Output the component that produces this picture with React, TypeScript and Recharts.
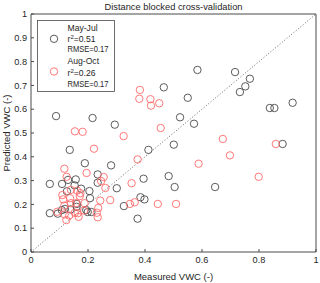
import React from "react";
import {
  ScatterChart,
  Scatter,
  XAxis,
  YAxis,
  ReferenceLine,
} from "recharts";

type Pt = { x: number; y: number };

// May-Jul (measured, predicted)
const mayJulMeasured = [
  0.584, 0.716, 0.768, 0.752, 0.733, 0.466, 0.55, 0.088, 0.216, 0.294, 0.136,
  0.189, 0.066, 0.109, 0.13, 0.157, 0.234, 0.234, 0.281, 0.412, 0.395, 0.483,
  0.501, 0.523, 0.572, 0.838, 0.854, 0.918, 0.883, 0.646, 0.504, 0.301, 0.153,
  0.176, 0.126, 0.205, 0.207, 0.066, 0.094, 0.108, 0.139, 0.161, 0.194, 0.199,
  0.212, 0.326, 0.384, 0.398, 0.374, 0.119, 0.16,
];
const mayJulPredicted = [
  0.765, 0.756, 0.728, 0.696, 0.672, 0.692, 0.648, 0.571, 0.563, 0.535, 0.429,
  0.373, 0.286, 0.286, 0.303, 0.305, 0.326, 0.291, 0.364, 0.429, 0.308, 0.319,
  0.451, 0.566, 0.539, 0.605, 0.605, 0.627, 0.454, 0.273, 0.273, 0.268, 0.28,
  0.266, 0.255, 0.256, 0.226, 0.163, 0.161, 0.176, 0.179, 0.202, 0.176, 0.168,
  0.168, 0.193, 0.23, 0.221, 0.14, 0.181, 0.19,
];

// Aug-Oct (measured, predicted)
const augOctMeasured = [
  0.382, 0.38, 0.419, 0.421, 0.45, 0.455, 0.325, 0.154, 0.181, 0.221, 0.117,
  0.125, 0.195, 0.255, 0.246, 0.261, 0.353, 0.374, 0.588, 0.673, 0.698, 0.859,
  0.799, 0.11, 0.14, 0.162, 0.137, 0.173, 0.117, 0.14, 0.158, 0.188, 0.236,
  0.243, 0.278, 0.171, 0.092, 0.118, 0.124, 0.134, 0.164, 0.167, 0.231, 0.234,
  0.347, 0.364, 0.445, 0.509, 0.113, 0.154, 0.186,
];
const augOctPredicted = [
  0.681, 0.644, 0.642, 0.615, 0.625, 0.521, 0.487, 0.507, 0.505, 0.434, 0.35,
  0.316, 0.332, 0.315, 0.298, 0.269, 0.289, 0.389, 0.371, 0.475, 0.406, 0.454,
  0.316, 0.239, 0.261, 0.258, 0.226, 0.247, 0.195, 0.205, 0.205, 0.205, 0.185,
  0.216, 0.218, 0.235, 0.169, 0.158, 0.134, 0.153, 0.163, 0.148, 0.165, 0.146,
  0.202, 0.209, 0.202, 0.202, 0.221, 0.165, 0.174,
];

const xTicks = [0, 0.2, 0.4, 0.6, 0.8, 1];
const yTicks = [0, 0.1, 0.2, 0.3, 0.4, 0.5, 0.6, 0.7, 0.8, 0.9, 1];

const mayJul: Pt[] = mayJulMeasured.map((x, i) => ({ x, y: mayJulPredicted[i] }));
const augOct: Pt[] = augOctMeasured.map((x, i) => ({ x, y: augOctPredicted[i] }));

const GRAY = "#4a4a4a";
const RED = "#ff6a6a";
const AXIS = "#4a4a4a";
const TEXT = "#262626";
const FONT = "'Liberation Sans', Arial, sans-serif";

const ring = (color: string) => (props: any) =>
  <circle cx={props.cx} cy={props.cy} r={3.7} fill="none" stroke={color} strokeWidth={0.9} />;

// legend drawn as an overlay so it doesn't eat plot space
const LegendBox = () => {
  const line = (t: React.ReactNode, y: number, len?: number) => (
    <text
      x={30.5}
      y={y}
      fontSize={8.6}
      fill={TEXT}
      fontFamily={FONT}
      textLength={len}
      lengthAdjust={len ? "spacingAndGlyphs" : undefined}
    >
      {t}
    </text>
  );
  const r2 = (v: string) => (
    <>
      r<tspan dy={-3} fontSize={6}>2</tspan>
      <tspan dy={3}>={v}</tspan>
    </>
  );
  return (
    <svg
      width={78}
      height={72}
      style={{ position: "absolute", left: 37, top: 19.5, display: "block" }}
    >
      <rect x={0.5} y={0.5} width={77} height={71} fill="#fff" stroke={AXIS} strokeWidth={0.8} />
      <circle cx={17} cy={18.8} r={3.7} fill="none" stroke={GRAY} strokeWidth={0.9} />
      {line("May-Jul", 11.3)}
      {line(r2("0.51"), 21.8)}
      {line("RMSE=0.17", 32.4, 41)}
      <circle cx={17} cy={51.5} r={3.7} fill="none" stroke={RED} strokeWidth={0.9} />
      {line("Aug-Oct", 43.5)}
      {line(r2("0.26"), 56)}
      {line("RMSE=0.17", 66.8, 41)}
    </svg>
  );
};

const App = () => {
  const tickStyle = { fill: TEXT, fontSize: 9.2, fontFamily: FONT };
  return (
    <div style={{ position: "absolute", left: 0, top: 0, width: 320, height: 283, background: "#fff" }}>
      <div
        style={{
          position: "absolute",
          left: 31,
          width: 285,
          top: 0,
          textAlign: "center",
          fontFamily: FONT,
          fontSize: 9.3,
          color: TEXT,
          lineHeight: "14px",
        }}
      >
        Distance blocked cross-validation
      </div>
      <ScatterChart width={320} height={283} margin={{ top: 0, right: 0, bottom: 0, left: 0 }}>
        <XAxis
          xAxisId="b"
          type="number"
          dataKey="x"
          domain={[0, 1]}
          ticks={xTicks}
          height={31}
          tickSize={-3}
          tickMargin={7}
          stroke={AXIS}
          tick={tickStyle}
          allowDataOverflow
          label={{ value: "Measured VWC (-)", position: "insideBottom", offset: 3, fill: TEXT, fontSize: 9.5, fontFamily: FONT }}
        />
        <XAxis
          xAxisId="t"
          type="number"
          orientation="top"
          domain={[0, 1]}
          ticks={xTicks}
          height={14}
          tickSize={-3}
          tick={false}
          stroke={AXIS}
          allowDataOverflow
        />
        <YAxis
          yAxisId="l"
          type="number"
          dataKey="y"
          domain={[0, 1]}
          ticks={yTicks}
          width={31}
          tickSize={-3}
          tickMargin={7}
          stroke={AXIS}
          tick={tickStyle}
          allowDataOverflow
        />
        <YAxis
          yAxisId="r"
          type="number"
          orientation="right"
          domain={[0, 1]}
          ticks={yTicks}
          width={4}
          tickSize={-3}
          tick={false}
          stroke={AXIS}
          allowDataOverflow
        />
        <ReferenceLine
          xAxisId="b"
          yAxisId="l"
          segment={[{ x: 0, y: 0 }, { x: 1, y: 1 }]}
          stroke="#555"
          strokeDasharray="1 2"
          strokeWidth={0.9}
        />
        <Scatter name="May-Jul" data={mayJul} xAxisId="b" yAxisId="l" shape={ring(GRAY)} isAnimationActive={false} />
        <Scatter name="Aug-Oct" data={augOct} xAxisId="b" yAxisId="l" shape={ring(RED)} isAnimationActive={false} />
      </ScatterChart>
      <div
        style={{
          position: "absolute",
          left: 7,
          top: 133,
          transform: "translate(-50%, -50%) rotate(-90deg)",
          whiteSpace: "nowrap",
          fontFamily: FONT,
          fontSize: 9.5,
          color: TEXT,
          lineHeight: "12px",
        }}
      >
        Predicted VWC (-)
      </div>
      <LegendBox />
    </div>
  );
};

export default App;
